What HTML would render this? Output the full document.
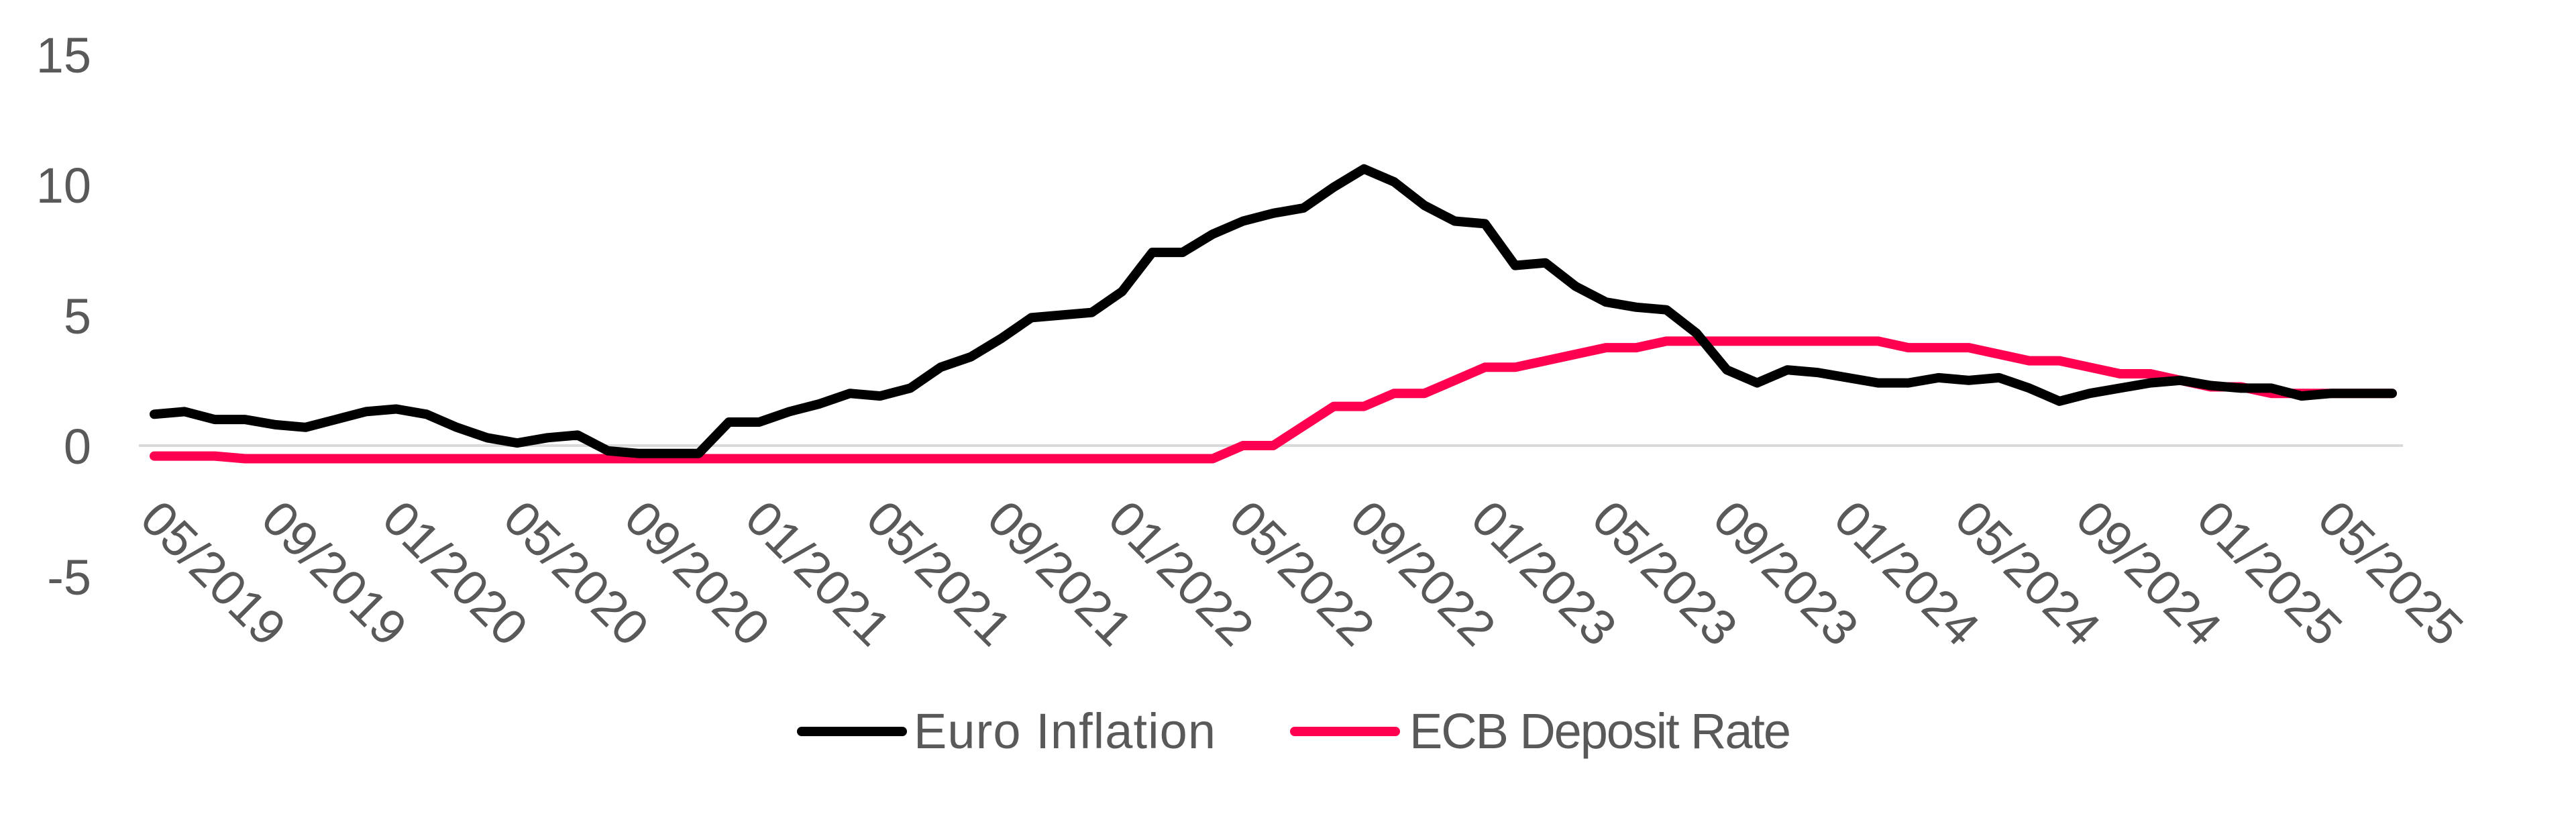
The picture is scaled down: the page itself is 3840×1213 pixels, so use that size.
<!DOCTYPE html>
<html><head><meta charset="utf-8"><style>html,body{margin:0;padding:0;background:#fff}svg{display:block}</style></head>
<body>
<svg id="c" width="3840" height="1213" xmlns="http://www.w3.org/2000/svg" font-family="'Liberation Sans', sans-serif" fill="#595959">
<line x1="207" y1="664" x2="3582" y2="664" stroke="#d9d9d9" stroke-width="4"/>
<g font-size="74" text-anchor="end">
<text x="136" y="108">15</text>
<text x="136" y="302">10</text>
<text x="136" y="497">5</text>
<text x="136" y="691">0</text>
<text x="136" y="886">-5</text>
</g>
<g id="xl" font-size="74"></g>
<path id="red" fill="none" stroke="#ff0050" stroke-width="14" stroke-linejoin="round" stroke-linecap="round"/>
<path id="blk" fill="none" stroke="#000" stroke-width="14" stroke-linejoin="round" stroke-linecap="round"/>
<line x1="1195" y1="1090" x2="1345" y2="1090" stroke="#000" stroke-width="14" stroke-linecap="round"/>
<text x="1362" y="1115" font-size="74" textLength="450">Euro Inflation</text>
<line x1="1930" y1="1090" x2="2080" y2="1090" stroke="#ff0050" stroke-width="14" stroke-linecap="round"/>
<text x="2101" y="1115" font-size="74" textLength="569">ECB Deposit Rate</text>
</svg>
<script>
var b=[1.2,1.3,1.0,1.0,0.8,0.7,1.0,1.3,
1.4,1.2,0.7,0.3,0.1,0.3,0.4,-0.2,-0.3,-0.3,-0.3,
0.9,0.9,1.3,1.6,2.0,1.9,2.2,3.0,3.4,4.1,4.9,5.0,
5.1,5.9,7.4,7.4,8.1,8.6,8.9,9.1,9.9,10.6,10.1,9.2,
8.6,8.5,6.9,7.0,6.1,5.5,5.3,5.2,4.3,2.9,2.4,2.9,
2.8,2.6,2.4,2.4,2.6,2.5,2.6,2.2,1.7,2.0,2.2,2.4,
2.5,2.3,2.2,2.2,1.9,2.0,2.0,2.0];
var r=[];
for(var i=0;i<75;i++){var v;
if(i<3)v=-0.4;else if(i<36)v=-0.5;else if(i<38)v=0;else if(i<39)v=0.75;else if(i<41)v=1.5;else if(i<43)v=2.0;else if(i<44)v=2.5;else if(i<46)v=3.0;else if(i<47)v=3.25;else if(i<48)v=3.5;else if(i<50)v=3.75;else if(i<58)v=4.0;else if(i<61)v=3.75;else if(i<62)v=3.5;else if(i<64)v=3.25;else if(i<65)v=3.0;else if(i<67)v=2.75;else if(i<68)v=2.5;else if(i<70)v=2.25;else v=2.0;
r.push(v);}
var x0=230,dx=(3566-230)/74,y0=664,k=38.9;
function P(a){return a.map(function(v,i){return (i?'L':'M')+(x0+i*dx).toFixed(1)+' '+(y0-v*k).toFixed(1)}).join('')}
document.getElementById('blk').setAttribute('d',P(b));
document.getElementById('red').setAttribute('d',P(r));
var g=document.getElementById('xl'),ns='http://www.w3.org/2000/svg';
var m=5,y=2019;
for(var i=0;i<74;i+=4){
var t=document.createElementNS(ns,'text');
var x=x0+i*dx+8;
t.setAttribute('transform','translate('+x+',745) rotate(45)');
t.setAttribute('x',0);t.setAttribute('y',46);
t.textContent=(m<10?'0':'')+m+'/'+y;
g.appendChild(t);
m+=4;if(m>12){m-=12;y++;}
}
</script>
</body></html>
